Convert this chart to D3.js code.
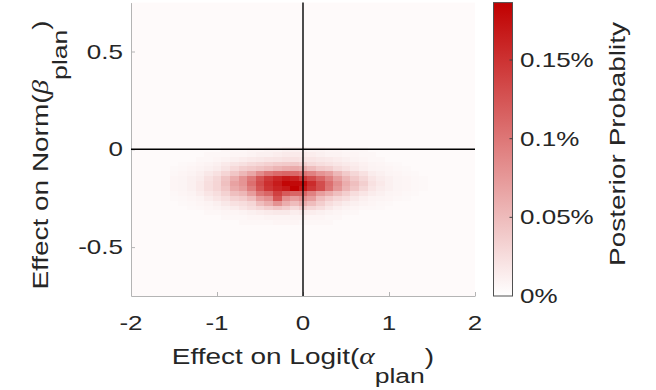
<!DOCTYPE html>
<html>
<head>
<meta charset="utf-8">
<script src="https://cdn.jsdelivr.net/npm/d3@7"></script>
<style>
  html, body { margin: 0; padding: 0; background: #ffffff; }
  svg { display: block; }
  text { font-family: "Liberation Sans", Arial, Helvetica, sans-serif; fill: #262626; }
</style>
</head>
<body>
<svg id="chart" width="656" height="390"></svg>
<script>
// ---- data -------------------------------------------------------------
// Bin centres of the posterior grid (effect on logit alpha, effect on norm beta)
const xBins = [-1.5, -1.4, -1.3, -1.2, -1.1, -1.0, -0.9, -0.8, -0.7, -0.6, -0.5,
               -0.4, -0.3, -0.2, -0.1, 0, 0.1, 0.2, 0.3, 0.4, 0.5, 0.6, 0.7, 0.8,
               0.9, 1.0, 1.1, 1.2, 1.3, 1.4, 1.5];
const yBins = [0, -0.025, -0.05, -0.075, -0.1, -0.125, -0.15, -0.175, -0.2,
               -0.225, -0.25, -0.275, -0.3, -0.325, -0.35, -0.375];
const binWidth = 0.1;
const binHeight = 0.025;

// Posterior probability per cell, in units of 0.001 %, one row per yBin
const posterior = [
  [4,4,4,4,4,4,6,6,6,7,7,9,9,11,11,11,9,9,7,7,6,6,6,4,4,4,4,4,4,4,4],
  [4,4,4,4,6,6,6,7,7,9,11,11,13,15,15,15,13,11,9,9,7,7,6,6,4,4,4,4,4,4,4],
  [4,4,4,6,6,7,9,11,13,15,17,19,20,22,22,20,19,17,15,13,11,9,7,6,6,4,4,4,4,4,4],
  [4,5,6,7,9,11,15,20,23,27,30,34,37,39,40,35,28,24,21,18,15,13,10,8,7,6,5,4,4,4,4],
  [5,6,7,9,11,14,20,28,35,39,43,48,55,60,62,58,48,39,35,26,21,16,12,9,8,7,6,5,4,4,4],
  [6,7,9,12,17,22,31,42,53,65,85,100,108,112,110,100,92,78,70,52,39,29,22,14,11,8,7,6,5,4,4],
  [7,8,11,14,22,29,43,60,78,98,125,145,158,168,162,145,130,112,92,70,53,39,29,19,14,11,8,7,6,5,4],
  [7,8,11,16,24,31,46,68,78,105,132,152,166,182,180,178,155,130,105,82,60,47,35,22,16,11,8,7,6,5,4],
  [7,8,11,16,24,31,42,62,72,95,125,148,160,168,186,168,148,130,102,76,55,42,29,19,14,11,8,7,6,5,4],
  [6,7,9,13,19,24,33,47,53,72,100,112,140,120,112,112,92,72,60,47,36,25,19,14,11,8,7,6,5,4,4],
  [5,6,7,9,14,19,24,33,37,48,72,82,125,82,72,82,72,48,37,29,24,17,12,9,8,7,6,5,4,4,4],
  [4,5,6,7,9,12,17,22,25,30,48,60,80,60,48,60,48,36,25,19,14,11,9,7,6,5,4,4,4,4,4],
  [4,4,5,6,7,9,11,14,19,24,29,36,42,36,26,36,29,24,17,12,9,7,6,6,5,4,4,4,4,4,4],
  [4,4,4,4,6,6,7,7,9,11,13,15,17,17,13,15,13,11,9,7,6,6,4,4,4,4,4,4,4,4,4],
  [4,4,4,4,4,4,6,6,6,7,7,9,9,9,9,9,7,7,6,6,4,4,4,4,4,4,4,4,4,4,4],
  [4,4,4,4,4,4,4,4,6,6,6,6,7,7,7,6,6,6,6,4,4,4,4,4,4,4,4,4,4,4,4]
];
const floorProb = 4;          // residual probability outside the listed cells (0.001 % units)
const unitPct = 0.001;        // one stored unit = 0.001 %

const xDomain = [-2, 2];
const yDomain = [-0.75, 0.75];
const xTicks = [-2, -1, 0, 1, 2];
const yTicks = [-0.5, 0, 0.5];
const cbDomain = [0, 0.1865];  // colour range, in %
const cbTicks = [0, 0.05, 0.1, 0.15];
const cbTickLabels = ["0%", "0.05%", "0.1%", "0.15%"];

// ---- layout -----------------------------------------------------------
const plot = { left: 131, right: 475, top: 2.6, bottom: 296 };
const cbar = { left: 493.5, right: 512.5 };
const textStretch = 1.3;
const tickFont = 20;
const titleFont = 21.5;

const svg = d3.select("#chart");

const x = d3.scaleLinear().domain(xDomain).range([plot.left, plot.right]);
const y = d3.scaleLinear().domain(yDomain).range([plot.bottom, plot.top]);
const color = d3.scaleLinear().domain(cbDomain).range(["#ffffff", "#c00000"]).clamp(true);
const cbY = d3.scaleLinear().domain(cbDomain).range([plot.bottom, plot.top]);

// ---- heatmap ----------------------------------------------------------
svg.append("rect")
  .attr("x", plot.left).attr("y", plot.top)
  .attr("width", plot.right - plot.left).attr("height", plot.bottom - plot.top)
  .attr("fill", color(floorProb * unitPct));

const cells = [];
yBins.forEach((yc, i) => {
  xBins.forEach((xc, j) => cells.push({ xc, yc, p: posterior[i][j] * unitPct }));
});

svg.append("g")
  .attr("shape-rendering", "crispEdges")
  .selectAll("rect")
  .data(cells)
  .join("rect")
  .attr("x", d => x(d.xc - binWidth / 2))
  .attr("y", d => y(d.yc + binHeight / 2))
  .attr("width", d => x(d.xc + binWidth / 2) - x(d.xc - binWidth / 2))
  .attr("height", d => y(d.yc - binHeight / 2) - y(d.yc + binHeight / 2))
  .attr("fill", d => color(d.p));

// ---- axes -------------------------------------------------------------
const axisGrey = "#b4b4b4";

const xAxis = svg.append("g")
  .attr("transform", `translate(0,${plot.bottom})`)
  .call(d3.axisBottom(x).tickValues(xTicks).tickSizeInner(-4).tickSizeOuter(0).tickFormat(""));
xAxis.select(".domain").attr("stroke", axisGrey);
xAxis.selectAll(".tick line").attr("stroke", axisGrey);

const yAxis = svg.append("g")
  .attr("transform", `translate(${plot.left},0)`)
  .call(d3.axisLeft(y).tickValues(yTicks).tickSizeInner(-4).tickSizeOuter(0).tickFormat(""));
yAxis.select(".domain").attr("stroke", axisGrey);
yAxis.selectAll(".tick line").attr("stroke", axisGrey);

// zero reference lines
svg.append("line")
  .attr("x1", plot.left).attr("x2", plot.right)
  .attr("y1", y(0)).attr("y2", y(0))
  .attr("stroke", "#000").attr("stroke-width", 1.4);
svg.append("line")
  .attr("x1", x(0)).attr("x2", x(0))
  .attr("y1", plot.top).attr("y2", plot.bottom)
  .attr("stroke", "#000").attr("stroke-width", 1.4);

// widened glyphs, anchored at (px, py)
function label(px, py, rotate) {
  return svg.append("g")
    .attr("transform", `translate(${px},${py})${rotate ? " rotate(-90)" : ""} scale(${textStretch},1)`)
    .append("text");
}
const fmt = v => (v < 0 ? "-" : "") + String(Math.abs(v));

xTicks.forEach(t => {
  label(x(t), 330).attr("text-anchor", "middle").attr("font-size", tickFont).text(fmt(t));
});
yTicks.forEach(t => {
  label(123, y(t)).attr("text-anchor", "end").attr("dy", "0.35em").attr("font-size", tickFont).text(fmt(t));
});

// axis titles with greek symbol and lowered subscript
function titleWithSub(px, py, rotate, main, greek, sub) {
  const t = label(px, py, rotate).attr("text-anchor", "middle").attr("font-size", titleFont);
  t.append("tspan").text(main);
  t.append("tspan")
    .attr("font-family", "'Liberation Serif', 'DejaVu Serif', serif")
    .attr("font-style", "italic")
    .attr("font-size", titleFont * 1.05)
    .text(greek);
  t.append("tspan").attr("dy", 19).attr("font-size", titleFont * 0.95).text(sub);
  t.append("tspan").attr("dy", -19).text(")");
}
titleWithSub(303, 364, false, "Effect on Logit(", "α", "plan");
titleWithSub(48, 155, true, "Effect on Norm(", "β", "plan");

// ---- colour bar -------------------------------------------------------
const grad = svg.append("defs").append("linearGradient")
  .attr("id", "cbGrad").attr("x1", 0).attr("x2", 0).attr("y1", 1).attr("y2", 0);
d3.range(0, 1.0001, 0.1).forEach(f => {
  grad.append("stop").attr("offset", f)
    .attr("stop-color", color(cbDomain[0] + f * (cbDomain[1] - cbDomain[0])));
});

svg.append("rect")
  .attr("x", cbar.left).attr("y", plot.top)
  .attr("width", cbar.right - cbar.left).attr("height", plot.bottom - plot.top)
  .attr("fill", "url(#cbGrad)")
  .attr("stroke", "#505050").attr("stroke-width", 1);

cbTicks.forEach((t, i) => {
  if (t > 0) {
    svg.append("line")
      .attr("x1", cbar.right - 3).attr("x2", cbar.right)
      .attr("y1", cbY(t)).attr("y2", cbY(t))
      .attr("stroke", "#404040").attr("stroke-width", 1);
  }
  label(520, cbY(t)).attr("text-anchor", "start").attr("dy", "0.35em")
    .attr("font-size", tickFont).text(cbTickLabels[i]);
});

label(625, 144, true).attr("text-anchor", "middle").attr("font-size", titleFont)
  .text("Posterior Probablity");
</script>
</body>
</html>
